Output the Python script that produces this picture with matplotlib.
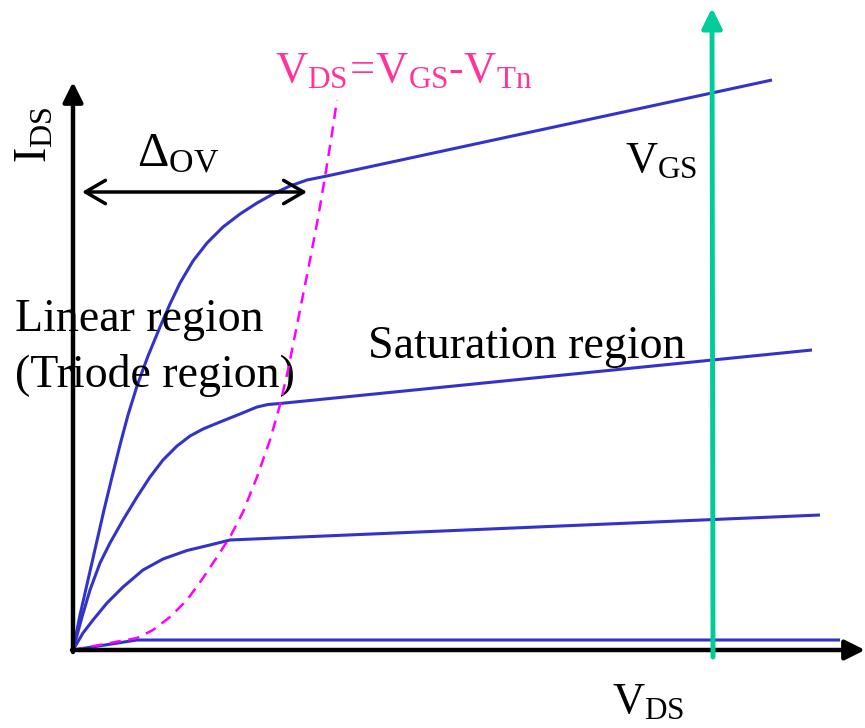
import matplotlib
matplotlib.use("Agg")
import matplotlib.pyplot as plt
from matplotlib.patches import FancyArrowPatch

plt.rcParams['font.family'] = ['Liberation Serif', 'DejaVu Serif']
plt.rcParams['mathtext.fontset'] = 'custom'
plt.rcParams['mathtext.rm'] = 'Liberation Serif'
plt.rcParams['mathtext.it'] = 'Liberation Serif:italic'
plt.rcParams['mathtext.bf'] = 'Liberation Serif:bold'

# ---- data (arbitrary units; V_DS horizontal, I_DS vertical) ----
vds_1 = [0, 7, 15, 23, 31, 39, 47, 55, 64, 75, 87, 97, 107, 120, 134, 150, 167, 184, 200, 217, 234, 254, 277, 699]
ids_1 = [0, 35, 70, 105, 140, 173, 205, 235, 264, 294, 323, 346, 367, 389, 407, 423, 436, 447, 456, 464, 470, 474, 479, 570]

vds_2 = [0, 9, 17, 27, 37, 50, 64, 77, 90, 104, 117, 130, 147, 167, 184, 195, 207, 739]
ids_2 = [0, 33, 60, 87, 107, 130, 153, 173, 190, 204, 214, 221, 228, 236, 243, 245.5, 246.5, 300]

vds_3 = [0, 10, 20, 34, 50, 70, 90, 114, 137, 157, 747]
ids_3 = [0, 17, 30, 47, 63, 80, 91, 99.5, 105, 110, 135]

vds_4 = [0, 64, 767]
ids_4 = [0, 10, 10]

vds_sat = [0, 37, 64, 80, 97, 114, 130, 144, 157, 170, 184, 197, 207, 215, 227, 237, 245, 252, 258, 264]
ids_sat = [0, 7, 12, 20, 33, 50, 72, 93, 113, 138, 173, 210, 245, 280, 340, 390, 432, 473, 510, 550]

BLUE = '#3333CC'
MAGENTA = '#FF00FF'
PINK = '#FF3399'
GREEN = '#00CC99'

fig = plt.figure(figsize=(8.65, 7.28), dpi=100)
ax = fig.add_axes([0, 0, 1, 1])
ax.set_xlim(-73, 792)
ax.set_ylim(-78, 650)
ax.axis('off')

for xs, ys in [(vds_1, ids_1), (vds_2, ids_2), (vds_3, ids_3), (vds_4, ids_4)]:
    ax.plot(xs, ys, color=BLUE, lw=2.2, solid_joinstyle='round', solid_capstyle='butt', zorder=3)

ax.plot(vds_sat, ids_sat, color=MAGENTA, lw=1.8, dashes=(4.5, 3), zorder=4)


def arrow(p0, p1, color, lw, style, z=5, ms=20):
    a = FancyArrowPatch(p0, p1, arrowstyle=style, color=color, lw=lw,
                        mutation_scale=ms, shrinkA=0, shrinkB=0, zorder=z)
    ax.add_patch(a)


arrow((0, -2), (0, 568), 'black', 3.2, '-|>,head_length=0.6,head_width=0.3')
arrow((-1, 0), (792, 0), 'black', 3.2, '-|>,head_length=0.6,head_width=0.3')
arrow((640, -7), (639, 642), GREEN, 3.5, '-|>,head_length=0.6,head_width=0.3')
arrow((9, 458), (234, 458), 'black', 2.5, '<->,head_length=0.72,head_width=0.42')

# texts
ax.text(-26, 487, r'$\mathrm{I_{DS}}$', rotation=90, rotation_mode='anchor',
        ha='left', va='baseline', fontsize=33, color='black')
ax.text(64, 484, r'$\mathrm{\Delta_{OV}}$', ha='left', va='baseline', fontsize=35, color='black')
ax.text(202, 568, r'$\mathrm{V_{DS}\!=\!V_{GS}\text{-}V_{Tn}}$', ha='left', va='baseline',
        fontsize=32, color=PINK)
ax.text(552, 478, r'$\mathrm{V_{GS}}$', ha='left', va='baseline', fontsize=32, color='black')
ax.text(539, -63, r'$\mathrm{V_{DS}}$', ha='left', va='baseline', fontsize=32, color='black')
ax.text(-58, 319, 'Linear region', ha='left', va='baseline', fontsize=33, color='black')
ax.text(-58, 263, '(Triode region)', ha='left', va='baseline', fontsize=33, color='black')
ax.text(295, 292, 'Saturation region', ha='left', va='baseline', fontsize=33, color='black')

fig.savefig('out.png', dpi=100)
